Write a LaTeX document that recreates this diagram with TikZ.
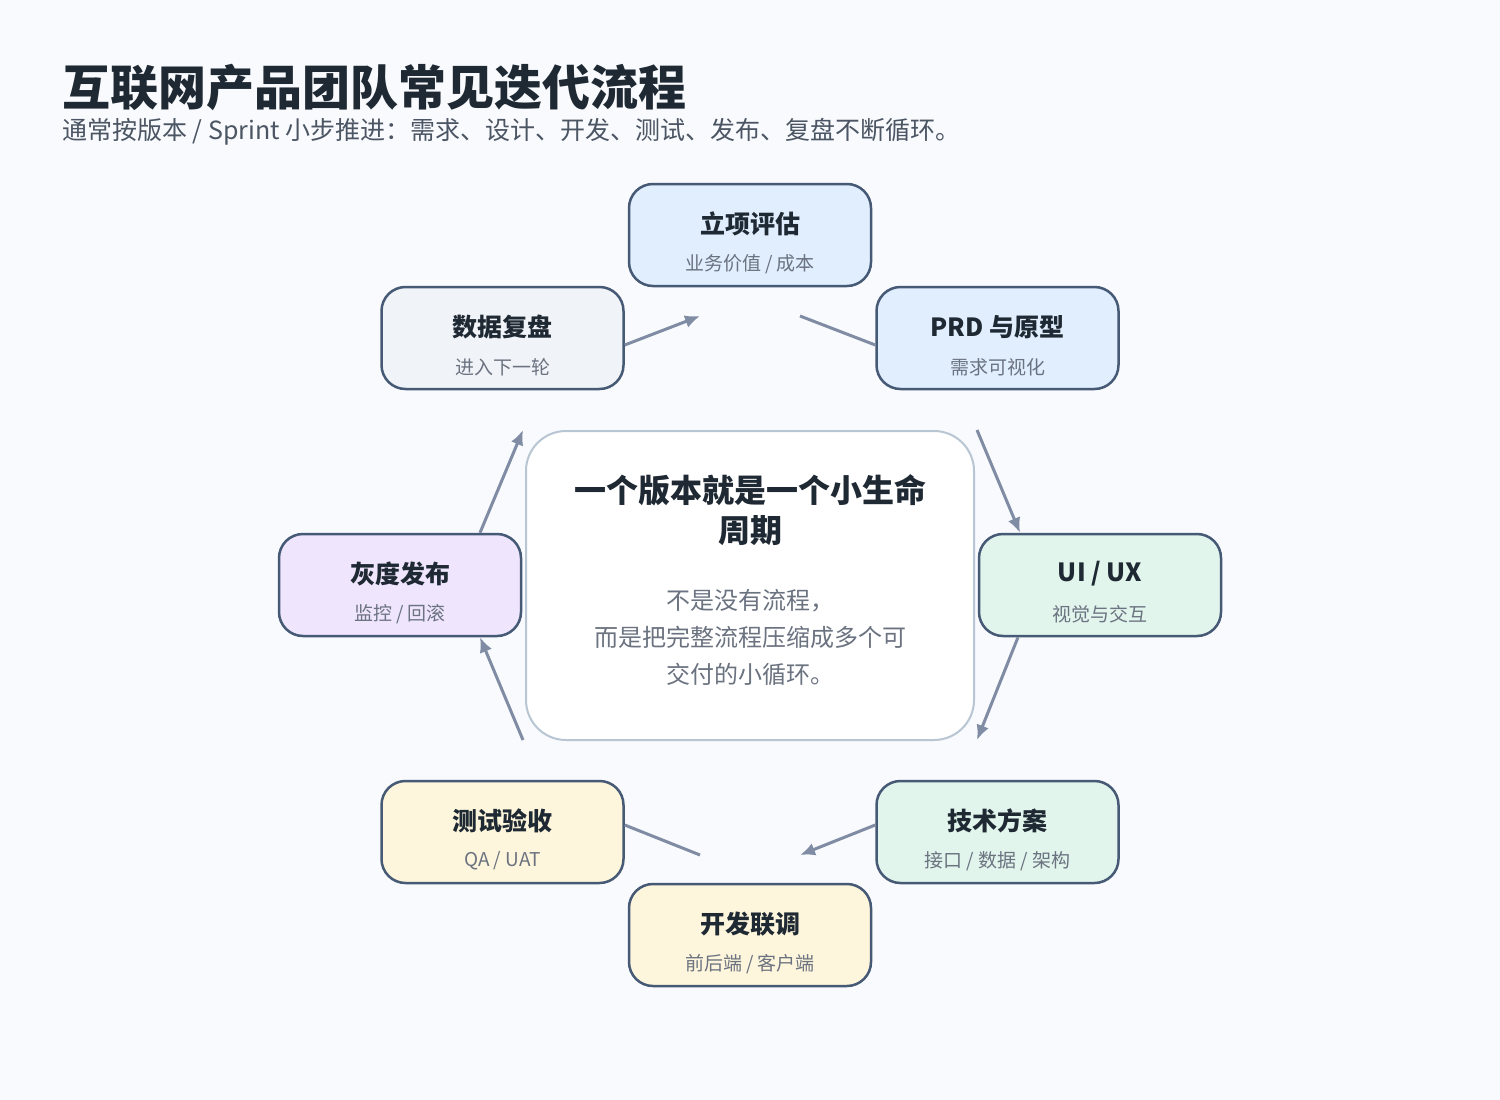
\documentclass[tikz,border=0pt]{standalone}
\usepackage{fontspec}
\setmainfont{Noto Sans CJK SC}
\usetikzlibrary{arrows.meta,calc}
\definecolor{bgc}{HTML}{F8FAFD}
\definecolor{nodeborder}{HTML}{475A75}
\definecolor{flowc}{HTML}{7F8CA3}
\definecolor{fillblue}{HTML}{E0EEFE}
\definecolor{fillgray}{HTML}{F0F3F7}
\definecolor{fillgreen}{HTML}{E1F5EC}
\definecolor{fillyellow}{HTML}{FEF6DC}
\definecolor{fillpurple}{HTML}{EFE6FD}
\definecolor{coreborder}{HTML}{B8C5D3}
\definecolor{inkdark}{HTML}{1F2933}
\definecolor{inksub}{HTML}{4B5563}
\definecolor{inklight}{HTML}{6B7280}
\tikzset{
  stagebox/.style={draw=nodeborder, line width=2.5pt, rounded corners=24pt,
    minimum width=242pt, minimum height=102pt, inner sep=0pt},
  stagetitle/.style={inner sep=0pt, text=inkdark, font=\fontsize{25}{29}\selectfont\bfseries},
  stagesub/.style={inner sep=0pt, text=inklight, font=\fontsize{19}{23}\selectfont},
  flow/.style={draw=flowc, line width=3pt},
  flowtip/.style={flow, -{Latex[length=15pt,width=13pt]}},
}
\newcommand\stagenode[6]{%
  \node[stagebox, fill=#4] (#1) at (#2,#3) {};
  \node[stagetitle] (#1-t) at ([yshift=11pt]#1.center) {#5};
  \node[stagesub] (#1-s) at ([yshift=-29pt]#1.center) {#6};
}
\begin{document}
\begin{tikzpicture}[x=1pt,y=-1pt]
\fill[bgc] (0,0) rectangle (1500,1100);
\useasboundingbox (0,0) rectangle (1500,1100);

\node[anchor=west, inner sep=0pt, text=inkdark, font=\fontsize{48}{54}\selectfont\bfseries] (title) at (62,87) {互联网产品团队常见迭代流程};
\node[anchor=west, inner sep=0pt, text=inksub, font=\fontsize{25}{29}\selectfont] (subtitle) at (62,132) {通常按版本 / Sprint 小步推进：需求、设计、开发、测试、发布、复盘不断循环。};

% center box
\node[draw=coreborder, line width=2pt, fill=white, rounded corners=40pt,
  minimum width=448pt, minimum height=309pt, inner sep=0pt] (core) at (750,585.5) {};
\node[inner sep=0pt, align=center, text=inkdark, font=\fontsize{32}{40}\selectfont\bfseries] (core-t) at ([yshift=75.5pt]core.center) {一个版本就是一个小生命\\周期};
\node[inner sep=0pt, align=center, text=inklight, font=\fontsize{24}{37}\selectfont] (core-b) at ([yshift=-51.5pt]core.center) {不是没有流程，\\而是把完整流程压缩成多个可\\交付的小循环。};

\stagenode{proj}{750}{235}{fillblue}{立项评估}{业务价值 / 成本}
\stagenode{prd}{997.5}{338}{fillblue}{PRD 与原型}{需求可视化}
\stagenode{uiux}{1100}{585}{fillgreen}{UI / UX}{视觉与交互}
\stagenode{tech}{997.5}{832}{fillgreen}{技术方案}{接口 / 数据 / 架构}
\stagenode{dev}{750}{935}{fillyellow}{开发联调}{前后端 / 客户端}
\stagenode{test}{502.5}{832}{fillyellow}{测试验收}{QA / UAT}
\stagenode{gray}{400}{585}{fillpurple}{灰度发布}{监控 / 回滚}
\stagenode{review}{502.5}{338}{fillgray}{数据复盘}{进入下一轮}

% free ends of connectors
\coordinate (a1) at (700,316);
\coordinate (a2) at (800,316);
\coordinate (a3) at (977,430);
\coordinate (a4) at (977,740);
\coordinate (a5) at (800,855);
\coordinate (a6) at (700,855);
\coordinate (a7) at (523,740);
\coordinate (a8) at (523,430);

\draw[flowtip] ([yshift=-7pt]review.east) -- (a1);
\draw[flow] (a2) -- ([yshift=-7pt]prd.west);
\draw[flowtip] (a3) -- ([xshift=-80pt]uiux.north);
\draw[flowtip] ([xshift=-82pt]uiux.south) -- (a4);
\draw[flowtip] ([yshift=7pt]tech.west) -- (a5);
\draw[flow] (a6) -- ([yshift=7pt]test.east);
\draw[flowtip] (a7) -- ([xshift=80pt]gray.south);
\draw[flowtip] ([xshift=80pt]gray.north) -- (a8);
\end{tikzpicture}
\end{document}
